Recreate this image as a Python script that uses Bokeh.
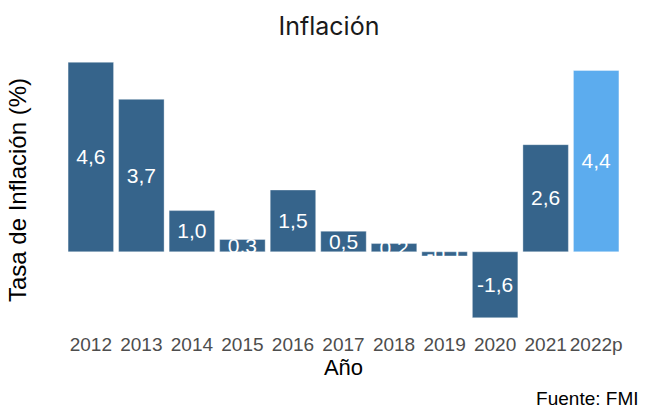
from bokeh.plotting import figure
from bokeh.models import ColumnDataSource, FactorRange, Range1d, FixedTicker, Title
from bokeh.core.properties import value
from bokeh.embed import file_html
from bokeh.resources import INLINE

# ---- data ----
years = ["2012", "2013", "2014", "2015", "2016", "2017", "2018", "2019", "2020", "2021", "2022p"]
inflation = [4.6, 3.7, 1.0, 0.3, 1.5, 0.5, 0.2, -0.1, -1.6, 2.6, 4.4]
title_text = "Inflación"
x_label = "Año"
y_label = "Tasa de Inflación (%)"
caption_text = "Fuente: FMI"

DARK = "#36648B"
LIGHT = "#5CACEE"

colors = [LIGHT if y.endswith("p") else DARK for y in years]
labels = [f"{v:.1f}".replace(".", ",") for v in inflation]
mid = [v / 2 for v in inflation]

source = ColumnDataSource(dict(year=years, val=inflation, col=colors, lab=labels, mid=mid))

lo, hi = min(inflation), max(inflation)
pad = (hi - lo) * 0.05

p = figure(
    x_range=FactorRange(factors=years, range_padding=0.2 / len(years)),
    y_range=Range1d(lo - pad, hi + pad),
    frame_width=566, frame_height=281,
    min_border_left=54, min_border_right=12, min_border_top=30, min_border_bottom=60,
    output_backend="svg", toolbar_location=None,
)

p.vbar(x="year", top="val", bottom=0, width=0.9, source=source,
       fill_color="col", line_color="white", line_alpha=0.35, line_width=1)
p.text(x="year", y="mid", text="lab", source=source, text_color="white",
       text_font=value("Liberation Sans"), text_font_size="21px",
       text_align="center", text_baseline="middle")

p.grid.visible = False
p.outline_line_color = None
p.background_fill_color = "white"
p.border_fill_color = "white"

# title
p.title.text = title_text
p.title.align = "left"
p.title.text_font = "Inter"
p.title.text_font_size = "25px"
p.title.text_font_style = "normal"
p.title.text_color = "#1a1a1a"
p.title.offset = 218
p.title.standoff = 17

# x axis
xa = p.xaxis[0]
xa.axis_line_color = None
xa.major_tick_line_color = None
xa.minor_tick_line_color = None
xa.major_tick_out = 0
xa.major_label_standoff = 3
xa.major_label_text_font = "Liberation Sans"
xa.major_label_text_font_size = "19px"
xa.major_label_text_color = "#4D4D4D"
xa.axis_label = x_label
xa.axis_label_text_font = "Liberation Sans"
xa.axis_label_text_font_size = "22px"
xa.axis_label_text_font_style = "normal"
xa.axis_label_text_color = "black"
xa.axis_label_standoff = -3

# y axis
ya = p.yaxis[0]
ya.ticker = FixedTicker(ticks=[])
ya.axis_line_color = None
ya.major_tick_line_color = None
ya.minor_tick_line_color = None
ya.major_tick_out = 0
ya.axis_label = y_label
ya.axis_label_text_font = "Liberation Sans"
ya.axis_label_text_font_size = "24px"
ya.axis_label_text_font_style = "normal"
ya.axis_label_text_color = "black"
ya.axis_label_standoff = 30

# caption
cap = Title(text=caption_text, align="right", text_font="Liberation Sans",
            text_font_size="19px", text_font_style="normal", text_color="black",
            offset=-12, standoff=6)
p.add_layout(cap, "below")

open("out.html", "w").write(file_html(p, INLINE))
